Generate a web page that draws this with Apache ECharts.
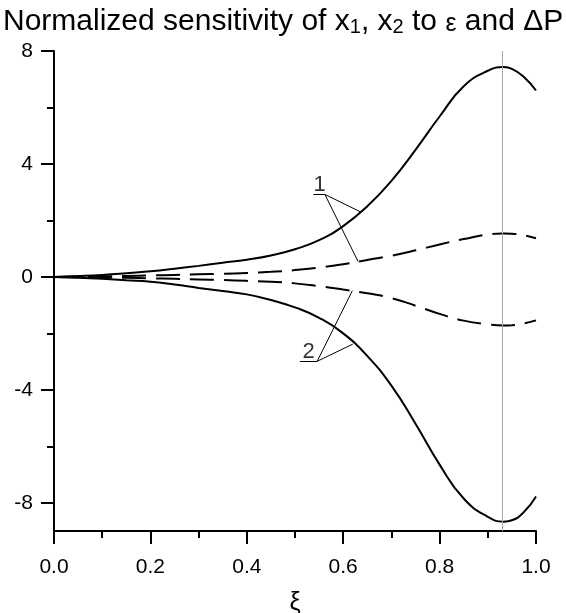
<!DOCTYPE html>
<html>
<head>
<meta charset="utf-8">
<script src="https://cdn.jsdelivr.net/npm/echarts@6/dist/echarts.min.js"></script>
<style>html,body{margin:0;padding:0;background:#fff}#c{width:566px;height:613px}</style>
</head>
<body>
<div id="c"></div>
<script>
// ---- data ----
const xi = [0, 0.05, 0.1, 0.15, 0.2, 0.25, 0.3, 0.35, 0.4, 0.45, 0.5, 0.55, 0.6, 0.65, 0.7, 0.75, 0.8, 0.85, 0.9, 0.933, 0.95, 0.975, 1.0];
const x1Solid = [0, 0.03, 0.07, 0.13, 0.2, 0.29, 0.39, 0.5, 0.61, 0.76, 0.98, 1.3, 1.8, 2.5, 3.4, 4.5, 5.68, 6.75, 7.3, 7.43, 7.37, 7.08, 6.6];
const x2Solid = [0, -0.03, -0.07, -0.12, -0.17, -0.27, -0.39, -0.5, -0.62, -0.82, -1.08, -1.45, -2.0, -2.8, -3.85, -5.2, -6.65, -7.85, -8.5, -8.67, -8.62, -8.33, -7.78];
const x1Dashed = [0, 0.01, 0.02, 0.03, 0.05, 0.07, 0.09, 0.11, 0.14, 0.18, 0.24, 0.33, 0.45, 0.6, 0.75, 0.94, 1.15, 1.34, 1.5, 1.54, 1.53, 1.47, 1.37];
const x2Dashed = [0, -0.01, -0.02, -0.03, -0.05, -0.07, -0.09, -0.11, -0.14, -0.17, -0.23, -0.33, -0.45, -0.58, -0.75, -1.02, -1.31, -1.55, -1.68, -1.72, -1.71, -1.65, -1.54];
const yMajorTicks = [-8, -4, 0, 4, 8];
const yMinorTicks = [-6, -2, 2, 6];
const peakXi = 0.933;
// annotation "1": label anchor, underline, leader targets
const note1Label = [0.551, 3.25];
const note1Bar = [[0.538, 2.92], [0.562, 2.92]];
const note1Targets = [[0.635, 2.31], [0.631, 0.54]];
// annotation "2"
const note2Label = [0.528, -2.65];
const note2Bar = [[0.510, -2.99], [0.546, -2.99]];
const note2Targets = [[0.620, -2.38], [0.619, -0.49]];

const pairs = ys => xi.map((x, i) => [x, ys[i]]);
const FONT = '"Liberation Sans", Arial, sans-serif';
const annoLines = (bar, targets) => [
  [{coord: bar[0]}, {coord: bar[1]}],
  [{coord: bar[1]}, {coord: targets[0]}],
  [{coord: bar[1]}, {coord: targets[1]}]
];
const annoMarkLine = (bar, targets) => ({
  silent: true, symbol: ['none', 'none'], animation: false,
  label: {show: false},
  lineStyle: {color: '#000', width: 1, type: 'solid'},
  emphasis: {disabled: true},
  data: annoLines(bar, targets)
});
const labelSeries = (pos, txt) => ({
  type: 'scatter', data: [pos], symbolSize: 1,
  itemStyle: {color: 'rgba(0,0,0,0)'}, silent: true, animation: false,
  label: {show: true, position: 'inside', formatter: txt, color: '#000', fontSize: 22, fontFamily: FONT},
  z: 5
});
const lineSeries = (ys, dashed) => ({
  type: 'line', data: pairs(ys), symbol: 'none', smooth: 0.5, animation: false, silent: true,
  lineStyle: {color: '#000', width: 2, type: dashed ? [24, 10] : 'solid'}
});

const chart = echarts.init(document.getElementById('c'), null, {renderer: 'canvas'});
const s1 = lineSeries(x1Solid, false);
s1.markLine = annoMarkLine(note1Bar, note1Targets);
const s2 = lineSeries(x2Solid, false);
s2.markLine = annoMarkLine(note2Bar, note2Targets);
const d1 = lineSeries(x1Dashed, true);
d1.markLine = {
  silent: true, symbol: ['none', 'none'], animation: false, label: {show: false},
  lineStyle: {color: '#a8a8a8', width: 1, type: 'solid'}, emphasis: {disabled: true},
  data: [{xAxis: peakXi}]
};
const d2 = lineSeries(x2Dashed, true);

chart.setOption({
  backgroundColor: '#fff',
  animation: false,
  title: {
    left: -2, top: -4,
    text: '{a|Normalized sensitivity of x}{s|1}{a|, x}{s|2}{a| to }{g|ε}{a| and ΔP}',
    textStyle: {
      fontWeight: 'normal',
      rich: {
        a: {fontSize: 30, fontWeight: 'normal', fontFamily: FONT, color: '#000', lineHeight: 36, verticalAlign: 'bottom'},
        g: {fontSize: 25, fontWeight: 'normal', fontFamily: FONT, color: '#000', lineHeight: 34, verticalAlign: 'bottom'},
        s: {fontSize: 20, fontWeight: 'normal', fontFamily: FONT, color: '#000', lineHeight: 20, verticalAlign: 'bottom'}
      }
    }
  },
  grid: {left: 54, right: 30, top: 51, bottom: 82, containLabel: false, outerBoundsMode: 'none'},
  xAxis: {
    type: 'value', min: 0, max: 1, interval: 0.2,
    name: 'ξ', nameLocation: 'middle', nameGap: 60,
    nameTextStyle: {fontSize: 25, fontFamily: FONT, color: '#000'},
    axisLine: {show: true, onZero: false, lineStyle: {color: '#000', width: 2}},
    axisTick: {show: true, length: 13, lineStyle: {color: '#000', width: 2}},
    minorTick: {show: true, splitNumber: 2, length: 7, lineStyle: {color: '#000', width: 2}},
    splitLine: {show: false},
    axisLabel: {fontSize: 21, fontFamily: FONT, color: '#000', margin: 26, formatter: v => v.toFixed(1)}
  },
  yAxis: [{
    type: 'value', min: -9, max: 8,
    axisLine: {show: true, onZero: false, lineStyle: {color: '#000', width: 2}},
    axisTick: {show: true, length: 13, customValues: yMajorTicks, lineStyle: {color: '#000', width: 2}},
    splitLine: {show: false},
    axisLabel: {fontSize: 21, fontFamily: FONT, color: '#000', margin: 21, customValues: yMajorTicks}
  }, {
    type: 'value', min: -9, max: 8, position: 'left',
    axisLine: {show: false},
    axisTick: {show: true, length: 7, customValues: yMinorTicks, lineStyle: {color: '#000', width: 2}},
    splitLine: {show: false},
    axisLabel: {show: false}
  }],
  series: [s1, s2, d1, d2, labelSeries(note1Label, '1'), labelSeries(note2Label, '2')]
});
</script>
</body>
</html>
